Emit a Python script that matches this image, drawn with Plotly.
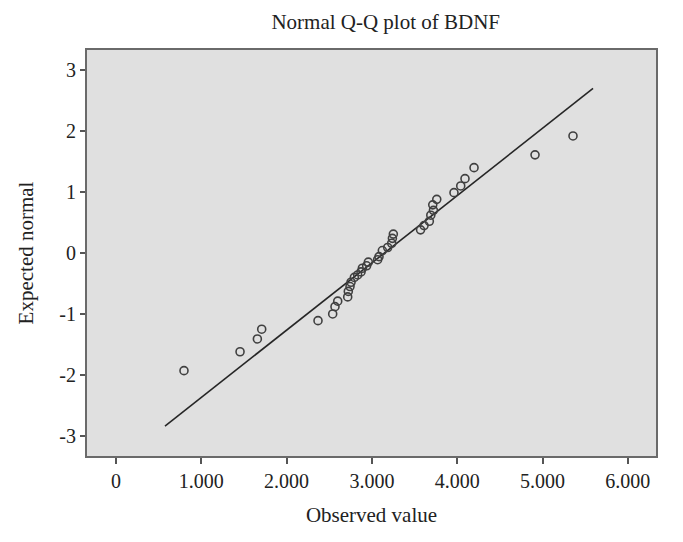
import plotly.graph_objects as go

observed = [797, 1454, 1657, 1708, 2368, 2540, 2567, 2599, 2716, 2723,
            2743, 2755, 2794, 2833, 2872, 2888, 2938, 2958, 3067, 3083,
            3122, 3185, 3232, 3240, 3251, 3570, 3611, 3673, 3690, 3721,
            3713, 3760, 3962, 4041, 4091, 4197, 4912, 5357]
expected = [-1.93, -1.62, -1.41, -1.25, -1.11, -1.00, -0.88, -0.79, -0.72, -0.63,
            -0.55, -0.48, -0.40, -0.36, -0.31, -0.25, -0.21, -0.15, -0.11, -0.06,
            0.04, 0.09, 0.16, 0.24, 0.31, 0.38, 0.45, 0.52, 0.62, 0.70,
            0.79, 0.88, 0.99, 1.10, 1.22, 1.40, 1.61, 1.92]

# Reference normal line end points
line_x = [574, 5592]
line_y = [-2.84, 2.70]

x_tickvals = [0, 1000, 2000, 3000, 4000, 5000, 6000]
x_ticktext = ["0", "1.000", "2.000", "3.000", "4.000", "5.000", "6.000"]
y_tickvals = [-3, -2, -1, 0, 1, 2, 3]
y_ticktext = ["-3", "-2", "-1", "0", "1", "2", "3"]

FONT = "Liberation Serif"
W, H = 675, 534  # page body adds an 8px offset

fig = go.Figure()
fig.add_trace(go.Scatter(
    x=line_x, y=line_y, mode="lines",
    line=dict(color="#262626", width=1.6),
    hoverinfo="skip", showlegend=False,
))
fig.add_trace(go.Scatter(
    x=observed, y=expected, mode="markers",
    marker=dict(symbol="circle-open", size=8, color="#404040",
                line=dict(width=1.6, color="#404040")),
    showlegend=False,
))

fig.update_layout(
    width=W, height=H,
    margin=dict(l=79, r=27, t=42, b=86, autoexpand=False),
    paper_bgcolor="white",
    plot_bgcolor="#e0e0e0",
    font=dict(family=FONT, size=20, color="#222222"),
    title=dict(text="Normal Q-Q plot of BDNF", x=0.525, xref="paper",
               xanchor="center", y=1 - 14 / H, yanchor="middle",
               yref="container",
               font=dict(family=FONT, size=21, color="#222222")),
    xaxis=dict(
        range=[-340, 6330], tickvals=x_tickvals, ticktext=x_ticktext,
        showgrid=False, zeroline=False,
        ticks="outside", ticklen=6, tickwidth=1.5, tickcolor="#555555",
        showline=True, mirror=True, linecolor="#6a6a6a", linewidth=2,
        tickfont=dict(family=FONT, size=20, color="#222222"),
        title=dict(text="Observed value", standoff=16,
                   font=dict(family=FONT, size=21, color="#222222")),
        automargin=False,
    ),
    yaxis=dict(
        range=[-3.33, 3.33], tickvals=y_tickvals, ticktext=y_ticktext,
        showgrid=False, zeroline=False,
        ticks="outside", ticklen=5, tickwidth=1.5, tickcolor="#555555",
        showline=True, mirror=True, linecolor="#6a6a6a", linewidth=2,
        tickfont=dict(family=FONT, size=20, color="#222222"),
        title=dict(text="Expected normal", standoff=20,
                   font=dict(family=FONT, size=21, color="#222222")),
        automargin=False,
    ),
)

fig.write_html("out.html")
